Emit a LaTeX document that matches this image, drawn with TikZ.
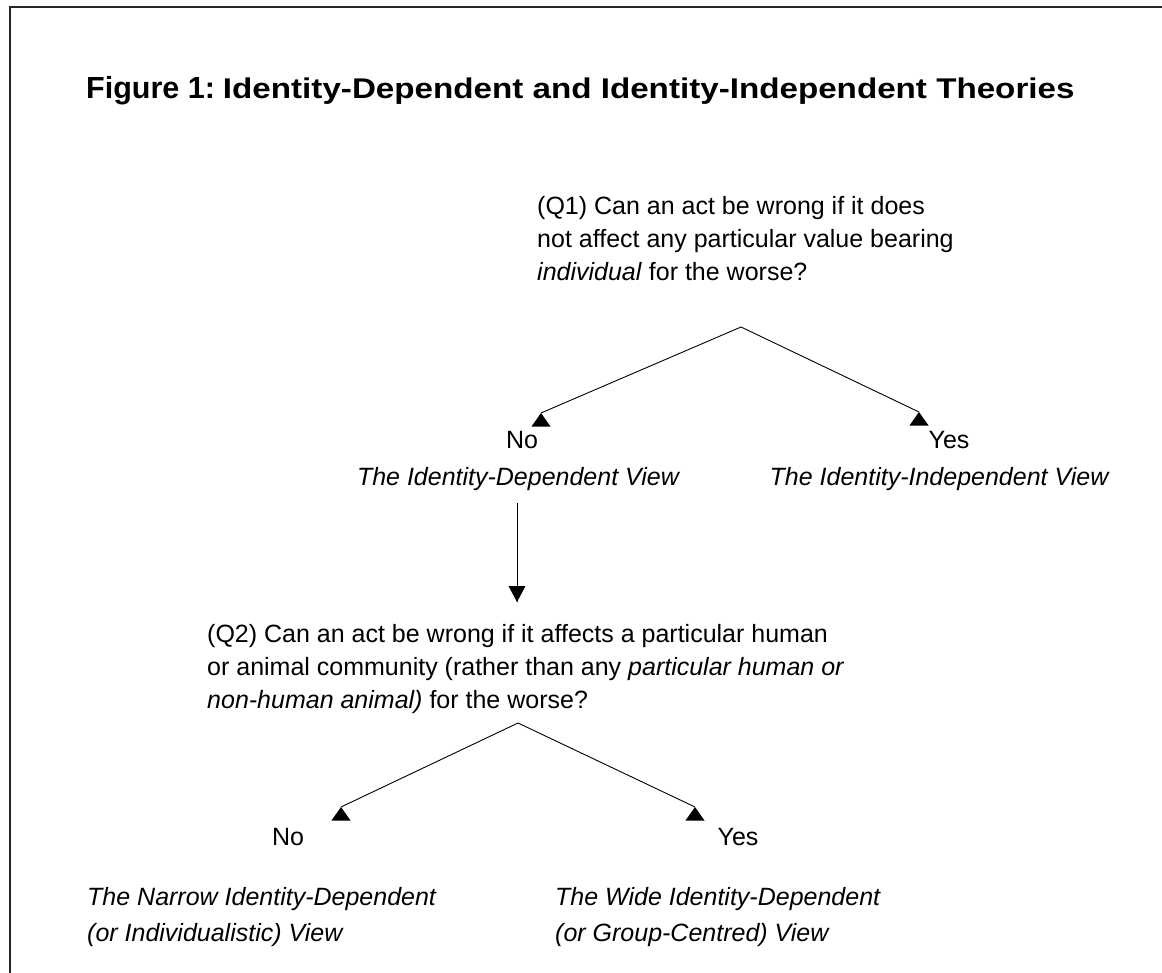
\documentclass[tikz,border=0pt]{standalone}
\usepackage{graphicx}
\usepackage{fontspec}
\setmainfont{Liberation Sans}
\begin{document}
\begin{tikzpicture}[x=1pt,y=-1pt,
  body/.style={font=\fontsize{25}{33}\selectfont, inner sep=0pt},
  ital/.style={font=\fontsize{25}{33}\selectfont\itshape, inner sep=0pt},
  ital36/.style={font=\fontsize{25}{36}\selectfont\itshape, inner sep=0pt},
  conn/.style={line width=0.9pt, black},
  framel/.style={line width=1.3pt, black!85},
  uphead/.pic={\fill (0,0) -- (9.5,13.5) -- (-9.5,13.5) -- cycle;},
  downhead/.pic={\fill (0,0) -- (8.5,-16) -- (-8.5,-16) -- cycle;}]
\useasboundingbox (0,0) rectangle (1162,973);
\draw[framel] (10,973) -- (10,7) -- (1162,7);
% title
\node[anchor=base west, inner sep=0pt, font=\bfseries] (title) at (86,99)
  {{\fontsize{30.5}{36}\selectfont Figure 1:}\hspace{8pt}\scalebox{1.164}[1]{\fontsize{28.5}{34}\selectfont Identity-Dependent and Identity-Independent Theories}};
% Q1
\node[body, anchor=north west, align=left] (q1) at (537,196)
  {(Q1) Can an act be wrong if it does\\
   not affect any particular value bearing\\
   \textit{individual} for the worse?};
\coordinate (r1) at (741,327);
\coordinate (t1l) at (541,413);
\coordinate (t1r) at (919,412);
\node[body, anchor=base] (no1) at (522,449) {No};
\node[body, anchor=base] (yes1) at (949,449) {Yes};
\node[ital, anchor=base] (dep) at (518,485) {The Identity-Dependent View};
\node[ital, anchor=base] (indep) at (939,485) {The Identity-Independent View};
\draw[conn] (r1) -- (t1l);
\draw[conn] (r1) -- (t1r);
\pic at (t1l) {uphead};
\pic at (t1r) {uphead};
% vertical
\coordinate (v0) at (517,503);
\coordinate (v1) at (517,602);
\draw[conn] (v0) -- (v1);
\pic at (v1) {downhead};
% Q2
\node[body, anchor=north west, align=left] (q2) at (207,624)
  {(Q2) Can an act be wrong if it affects a particular human\\
   or animal community (rather than any \textit{particular human or}\\
   \textit{non-human animal)} for the worse?};
\coordinate (r2) at (518,723);
\coordinate (t2l) at (341,807);
\coordinate (t2r) at (695,807);
\draw[conn] (r2) -- (t2l);
\draw[conn] (r2) -- (t2r);
\pic at (t2l) {uphead};
\pic at (t2r) {uphead};
\node[body, anchor=base] (no2) at (288,845) {No};
\node[body, anchor=base] (yes2) at (738,845) {Yes};
\node[ital36, anchor=north west, align=left] (narrow) at (87,887)
  {The Narrow Identity-Dependent\\ (or Individualistic) View};
\node[ital36, anchor=north west, align=left] (wide) at (555,887)
  {The Wide Identity-Dependent\\ (or Group-Centred) View};
\end{tikzpicture}
\end{document}
